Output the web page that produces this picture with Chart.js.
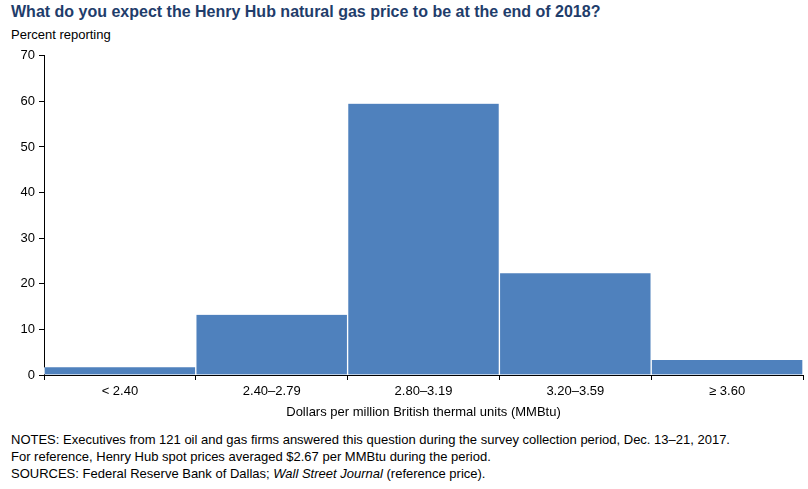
<!DOCTYPE html>
<html>
<head>
<meta charset="utf-8">
<script src="https://cdn.jsdelivr.net/npm/chart.js@4"></script>
<style>
  body { margin: 0; width: 808px; height: 489px; background: #fff; font-family: "Liberation Sans", Arial, sans-serif; position: relative; overflow: hidden; }
  .t { position: absolute; left: 11px; white-space: nowrap; color: #000; }
  #title { top: 3px; font-size: 16px; font-weight: bold; color: #1F3D6B; }
  #unit { top: 27px; font-size: 13px; }
  .note { font-size: 13px; }
  #wrap { position: absolute; left: 0; top: 44px; width: 808px; height: 380px; }
</style>
</head>
<body>
<div class="t" id="title">What do you expect the Henry Hub natural gas price to be at the end of 2018?</div>
<div class="t" id="unit">Percent reporting</div>
<div id="wrap"><canvas id="grafico"></canvas></div>
<div class="t note" style="top:432px">NOTES: Executives from 121 oil and gas firms answered this question during the survey collection period, Dec. 13–21, 2017.</div>
<div class="t note" style="top:449px">For reference, Henry Hub spot prices averaged $2.67 per MMBtu during the period.</div>
<div class="t note" style="top:466px">SOURCES: Federal Reserve Bank of Dallas; <i>Wall Street Journal</i> (reference price).</div>
<script>
const categorias = ['< 2.40', '2.40–2.79', '2.80–3.19', '3.20–3.59', '≥ 3.60'];
const percentuais = [1.7, 13.2, 59.5, 22.3, 3.3];
const ticksY = [0, 10, 20, 30, 40, 50, 60, 70];

const ctx = document.getElementById('grafico').getContext('2d');
new Chart(ctx, {
  type: 'bar',
  data: {
    labels: categorias,
    datasets: [{
      data: percentuais,
      backgroundColor: '#4F81BD',
      borderColor: '#ffffff',
      borderWidth: { left: 1, right: 1, top: 0, bottom: 0 },
      barPercentage: 1,
      categoryPercentage: 1
    }]
  },
  options: {
    responsive: true,
    maintainAspectRatio: false,
    animation: false,
    layout: { padding: { top: 10, right: 5, left: 0, bottom: 0 } },
    plugins: { legend: { display: false }, tooltip: { enabled: false } },
    scales: {
      x: {
        grid: { display: true, drawOnChartArea: false, color: '#000', tickLength: 5, offset: true },
        border: { color: '#000' },
        ticks: { color: '#000', font: { size: 13, family: 'Liberation Sans' }, padding: 4 },
        title: { display: true, text: 'Dollars per million British thermal units (MMBtu)', color: '#000', font: { size: 13, family: 'Liberation Sans' }, padding: { top: 4 } },
        afterFit: (s) => { s.height = 49; }
      },
      y: {
        min: 0, max: 70,
        afterBuildTicks: (s) => { s.ticks = ticksY.map(v => ({ value: v })); },
        grid: { display: true, drawOnChartArea: false, color: '#000', tickLength: 5 },
        border: { color: '#000' },
        ticks: { color: '#000', font: { size: 13, family: 'Liberation Sans' }, padding: 4 },
        afterFit: (s) => { s.width = 44; }
      }
    }
  }
});
</script>
</body>
</html>
